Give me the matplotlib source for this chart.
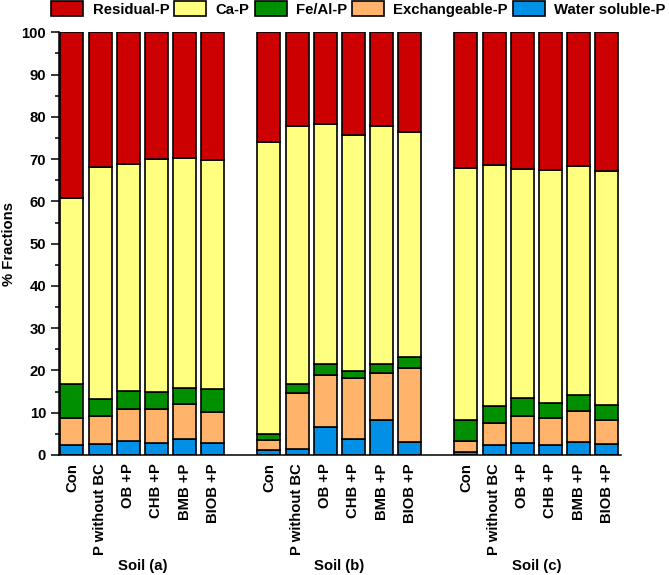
import matplotlib
matplotlib.use("Agg")
import matplotlib.pyplot as plt
import numpy as np
from matplotlib.ticker import MultipleLocator

plt.rcParams['font.family'] = ['Liberation Sans', 'DejaVu Sans']
plt.rcParams['font.weight'] = 'bold'

treatments = ['Con', 'P without BC', 'OB +P', 'CHB +P', 'BMB +P', 'BIOB +P']
soils = ['Soil (a)', 'Soil (b)', 'Soil (c)']

# fractions (%) per bar, soil a / b / c, six treatments each
water = [2.4, 2.5, 3.3, 2.9, 3.9, 2.9,
         1.2, 1.4, 6.7, 3.7, 8.3, 3.0,
         0.6, 2.4, 2.9, 2.4, 3.0, 2.5]
exch = [6.3, 6.8, 7.5, 8.0, 8.2, 7.2,
        2.3, 13.2, 12.2, 14.4, 11.2, 17.7,
        2.6, 5.1, 6.4, 6.4, 7.5, 5.8]
feal = [8.1, 4.0, 4.3, 4.1, 3.8, 5.6,
        1.4, 2.3, 2.6, 1.8, 2.0, 2.6,
        5.1, 4.2, 4.1, 3.4, 3.7, 3.5]
cap = [43.9, 54.8, 53.7, 55.0, 54.4, 54.1,
       69.2, 61.0, 56.9, 55.8, 56.4, 53.2,
       59.7, 56.8, 54.3, 55.2, 54.2, 55.5]
resid = [39.3, 31.9, 31.2, 30.0, 29.7, 30.2,
         25.9, 22.1, 21.6, 24.3, 22.1, 23.5,
         32.0, 31.5, 32.3, 32.6, 31.6, 32.7]

names = ['Residual-P', 'Ca-P', 'Fe/Al-P', 'Exchangeable-P', 'Water soluble-P']
colors = ['#CC0000', '#FFFF80', '#008F00', '#FFB36B', '#0091E6']

x = np.concatenate([np.arange(6) + 7 * g for g in range(3)])
fs = 10.7

fig = plt.figure(figsize=(6.69, 5.75), dpi=100)
ax = fig.add_axes([59 / 669, 1 - 455 / 575, (621 - 59) / 669, (455 - 32.3) / 575])

stack = [water, exch, feal, cap, resid]
bottom = np.zeros(len(x))
handles = {}
for vals, name, col in zip(stack, names[::-1], colors[::-1]):
    vals = np.array(vals)
    b = ax.bar(x, vals, 0.82, bottom=bottom, color=col, edgecolor='black', linewidth=1.2, label=name)
    handles[name] = b
    bottom += vals

ax.set_xlim(-0.46, 19.51)
ax.set_ylim(0, 100)
ax.yaxis.set_major_locator(MultipleLocator(10))
ax.yaxis.set_minor_locator(MultipleLocator(5))
ax.tick_params(axis='y', which='major', direction='out', length=5.8, width=1.1, labelsize=fs)
ax.tick_params(axis='y', which='minor', direction='out', length=3, width=1.1)
ax.set_xticks(x)
ax.set_xticklabels(treatments * 3, rotation=90, fontsize=fs, fontweight='bold')
ax.tick_params(axis='x', length=0, pad=6)
for lab in ax.get_yticklabels():
    lab.set_fontweight('bold')
for s in ['top', 'right']:
    ax.spines[s].set_visible(False)
for s in ['left', 'bottom']:
    ax.spines[s].set_linewidth(1.1)

ax.set_ylabel('% Fractions', fontsize=fs, fontweight='bold', labelpad=4)

ysoil = -(566 - 455) / (455 - 32.3)
for g, s in enumerate(soils):
    xc = (x[6 * g] + x[6 * g + 5]) / 2
    ax.text(xc, ysoil, s, transform=ax.get_xaxis_transform(), ha='center', va='center',
            fontsize=fs, fontweight='bold')

fig.legend([handles[n] for n in names], names, loc='center', bbox_to_anchor=(358.5 / 669, 1 - 9 / 575),
           ncol=5, frameon=False, fontsize=fs, handlelength=2.15, handleheight=1.15,
           handletextpad=0.62, columnspacing=0.35, borderpad=0)

fig.savefig('out.png', dpi=100)
